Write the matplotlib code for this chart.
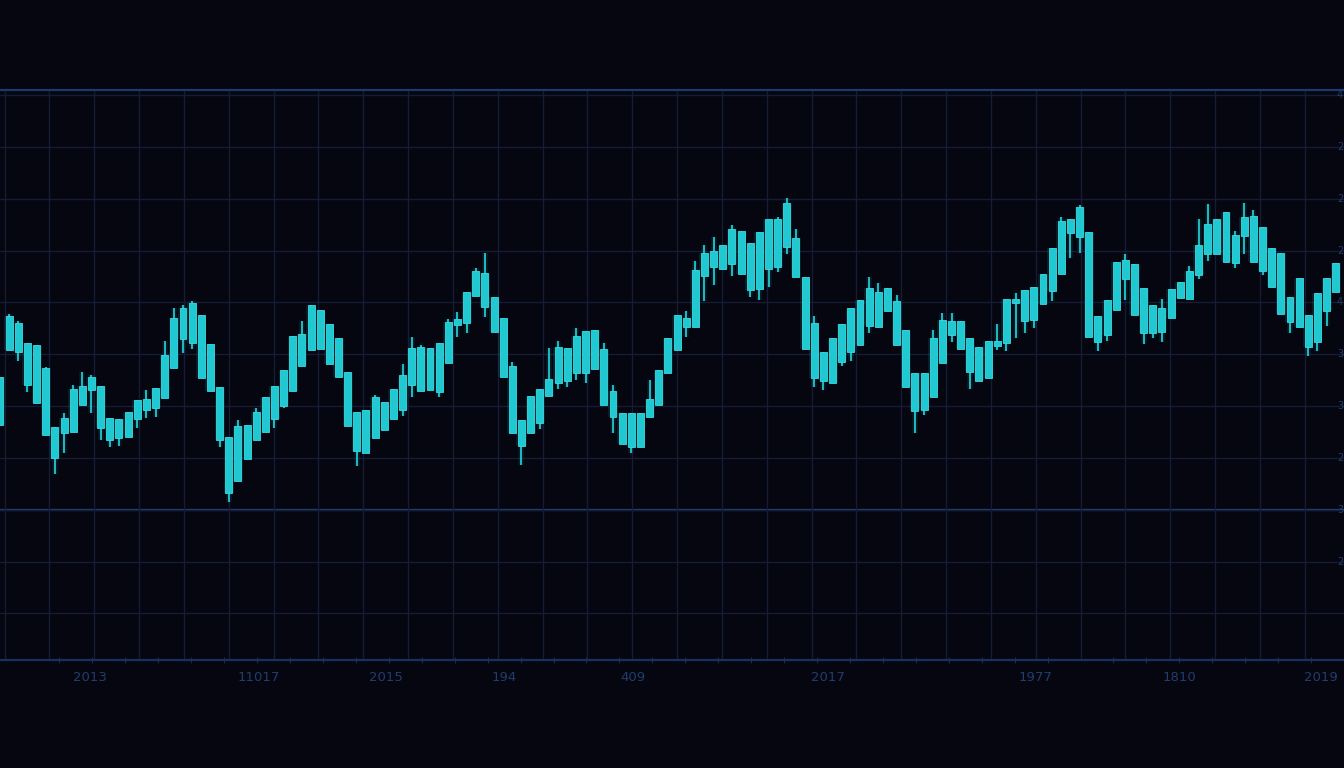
import numpy as np
import matplotlib
matplotlib.use("Agg")
import matplotlib.pyplot as plt
import matplotlib.transforms as mtrans

# candle data (arbitrary price units)
opens = [45.4, 59.8, 65.0, 61.2, 60.8, 56.4, 45.0, 43.8, 44.0, 49.2,
         52.1, 52.9, 46.7, 42.8, 43.0, 46.5, 48.2, 48.6, 50.6, 56.4,
         61.9, 61.2, 66.6, 61.0, 52.7, 43.0, 34.5, 38.8, 42.5, 44.0,
         46.5, 49.0, 51.9, 56.7, 59.8, 67.5, 64.8, 62.1, 55.6, 47.9,
         48.2, 42.8, 44.4, 46.5, 48.2, 53.1, 60.4, 52.1, 51.7, 57.3,
         64.6, 65.0, 70.2, 74.7, 70.1, 66.0, 56.7, 46.3, 43.8, 45.7,
         50.9, 53.5, 53.8, 55.4, 55.4, 56.2, 60.0, 51.9, 47.7, 47.7,
         41.1, 46.9, 49.2, 55.4, 59.8, 64.3, 64.3, 74.1, 75.8, 75.5,
         76.4, 82.8, 80.5, 71.6, 75.5, 75.8, 79.7, 81.4, 73.9, 65.0,
         59.4, 53.5, 57.5, 59.4, 60.8, 64.5, 71.0, 67.4, 69.3, 63.7,
         55.4, 48.2, 50.8, 57.3, 62.7, 65.4, 62.1, 60.4, 54.4, 60.6,
         61.2, 68.9, 71.4, 65.6, 68.7, 71.2, 74.5, 82.4, 81.6, 82.6,
         66.4, 62.7, 67.5, 73.5, 76.4, 71.8, 68.5, 67.9, 66.0, 69.9,
         69.7, 74.3, 78.4, 78.4, 86.5, 82.0, 81.8, 85.7, 83.6, 79.5,
         78.5, 70.1, 64.3, 66.6, 61.4, 67.4, 71.0]
closes = [54.6, 66.3, 59.4, 53.1, 49.6, 43.4, 39.0, 46.7, 52.3, 52.9,
          54.6, 44.8, 42.5, 46.5, 47.9, 50.2, 50.4, 52.5, 58.9, 66.0,
          67.9, 68.9, 54.4, 51.9, 42.5, 32.2, 45.2, 45.4, 47.9, 50.8,
          52.9, 56.0, 62.5, 62.9, 68.5, 60.0, 57.1, 54.6, 45.2, 40.3,
          39.9, 50.8, 49.8, 52.3, 55.0, 60.2, 51.9, 60.2, 61.2, 65.2,
          65.8, 71.0, 75.1, 68.1, 63.3, 54.6, 43.8, 41.3, 50.9, 52.3,
          54.2, 60.4, 60.2, 62.5, 63.5, 63.7, 49.2, 46.9, 41.7, 41.1,
          47.7, 50.4, 56.0, 62.1, 66.6, 66.0, 75.3, 78.5, 78.9, 80.1,
          83.2, 74.5, 71.4, 82.6, 85.1, 85.1, 88.2, 73.9, 60.0, 54.4,
          53.8, 62.1, 64.8, 67.9, 69.5, 71.8, 64.3, 71.8, 60.8, 52.7,
          48.1, 55.4, 62.1, 65.6, 65.4, 60.0, 55.6, 53.8, 61.6, 61.6,
          69.7, 69.7, 65.4, 72.0, 74.5, 79.5, 84.7, 85.1, 87.4, 62.3,
          61.4, 69.5, 76.8, 77.2, 66.6, 63.1, 63.1, 63.3, 71.6, 72.9,
          75.1, 80.1, 84.1, 85.1, 76.8, 76.6, 85.5, 76.8, 75.1, 72.0,
          66.8, 65.2, 73.7, 60.4, 70.8, 73.7, 76.6]
highs = [54.6, 66.8, 65.4, 61.2, 60.8, 56.5, 45.0, 47.7, 53.1, 55.6,
         55.0, 52.9, 46.7, 46.5, 47.9, 50.2, 52.1, 52.5, 61.6, 67.9,
         68.5, 69.3, 66.6, 61.0, 52.7, 43.0, 46.3, 45.4, 48.6, 50.8,
         52.9, 56.0, 62.5, 65.4, 68.5, 67.5, 64.8, 62.1, 55.6, 47.9,
         48.2, 51.1, 49.8, 52.3, 57.1, 62.3, 60.8, 60.2, 61.2, 65.8,
         67.2, 71.0, 75.6, 78.5, 70.1, 66.0, 57.5, 46.3, 50.9, 52.3,
         60.2, 61.6, 60.2, 64.1, 63.5, 63.7, 61.2, 53.1, 47.7, 47.7,
         47.7, 54.0, 56.0, 62.1, 66.6, 67.4, 77.0, 80.1, 81.6, 80.1,
         83.9, 82.8, 80.5, 82.6, 85.1, 85.5, 89.2, 83.2, 73.9, 66.4,
         59.4, 62.1, 64.8, 67.9, 69.5, 73.9, 72.8, 71.8, 70.4, 63.7,
         55.4, 55.4, 63.7, 67.0, 67.0, 65.4, 62.1, 60.4, 61.6, 64.8,
         69.7, 70.8, 71.4, 72.0, 74.5, 79.5, 85.5, 85.1, 87.8, 82.6,
         66.4, 69.5, 76.8, 78.4, 76.4, 71.8, 68.5, 69.7, 71.6, 72.9,
         76.0, 85.1, 88.0, 85.1, 86.5, 82.8, 88.2, 86.8, 83.6, 79.5,
         78.5, 70.1, 73.7, 66.6, 70.8, 73.7, 76.6]
lows = [45.4, 59.8, 57.7, 51.7, 49.6, 43.4, 35.9, 39.9, 44.0, 49.2,
        47.7, 42.5, 41.1, 41.3, 43.0, 44.8, 46.7, 46.9, 50.6, 56.4,
        59.2, 60.0, 54.4, 51.9, 41.1, 30.5, 34.5, 38.8, 42.5, 44.0,
        44.8, 48.6, 51.9, 56.7, 59.8, 60.0, 57.1, 54.6, 45.2, 37.4,
        39.9, 42.8, 44.4, 46.5, 47.1, 50.8, 51.9, 52.1, 50.8, 57.3,
        62.3, 63.1, 70.2, 66.2, 63.3, 54.6, 43.8, 37.6, 43.8, 44.6,
        50.9, 52.3, 52.7, 54.0, 53.5, 56.2, 49.2, 43.8, 41.7, 40.0,
        41.1, 46.9, 49.2, 55.4, 59.8, 62.3, 64.3, 69.3, 72.4, 75.5,
        74.1, 74.5, 70.1, 69.5, 72.0, 74.9, 78.4, 73.9, 60.0, 52.7,
        52.1, 53.5, 56.7, 57.7, 60.8, 63.1, 64.3, 67.4, 60.8, 52.7,
        43.8, 47.3, 50.8, 57.3, 61.4, 60.0, 52.3, 53.8, 54.4, 59.8,
        59.6, 62.1, 63.1, 64.1, 68.7, 69.3, 74.5, 77.6, 78.5, 62.3,
        59.6, 61.6, 67.5, 69.5, 66.6, 61.0, 62.1, 61.4, 66.0, 69.9,
        69.7, 73.5, 77.0, 78.4, 76.8, 75.6, 78.4, 76.8, 74.3, 72.0,
        66.8, 63.1, 64.3, 58.7, 59.6, 64.5, 71.0]

x_labels = ["2013", "11017", "2015", "194", "409", "2017", "1977", "1810", "2019"]
x_label_pos = [9.8, 28.3, 42.2, 55.1, 69.2, 90.5, 113.2, 128.9, 146.2]
y_grid = np.arange(9, 110, 10)
right_labels = ["4", "2", "2", "2", "4", "3", "3", "2", "3", "2"]

bg = "#05060f"
candle = "#20c9d2"
grid_c = "#141c36"
line_c = "#1d3a70"
label_c = "#213d6d"

opens = np.array(opens)
closes = np.array(closes)
highs = np.array(highs)
lows = np.array(lows)
idx = np.arange(len(opens))
body_lo = np.minimum(opens, closes)
body_hi = np.maximum(opens, closes)

fig = plt.figure(figsize=(13.44, 7.68), dpi=100, facecolor=bg)
ax = fig.add_axes([0, 108 / 768, 1, 570 / 768])
ax.set_facecolor(bg)
ax.set_xlim(0, 146.2)
ax.set_ylim(0, 110)

# grid
ax.set_yticks(y_grid)
ax.set_xticks(np.arange(0.5, 147, 4.9))
ax.set_xticks(np.arange(6.5, 147, 3.6), minor=True)
ax.grid(True, which="major", color=grid_c, linewidth=1.0)
ax.tick_params(which="major", length=0, labelbottom=False, labelleft=False)
ax.tick_params(which="minor", axis="x", length=5, width=0.8, color="#1a2a4f",
               direction="inout")
ax.tick_params(which="minor", axis="y", length=0)

for side in ["left", "right"]:
    ax.spines[side].set_visible(False)
ax.spines["top"].set_color(line_c)
ax.spines["top"].set_linewidth(1.6)
ax.spines["bottom"].set_color("#1a3060")
ax.spines["bottom"].set_linewidth(1.6)
ax.axhline(29, color="#22447f", linewidth=1.6, zorder=1)

# glow + candles
ax.vlines(idx, lows, highs, color=candle, linewidth=4, alpha=0.10, zorder=2)
ax.bar(idx, body_hi - body_lo, bottom=body_lo, width=1.1, color=candle,
       alpha=0.12, linewidth=0, zorder=2)
ax.vlines(idx, lows, highs, color=candle, linewidth=1.3, zorder=3)
ax.bar(idx, body_hi - body_lo, bottom=body_lo, width=0.76, color=candle,
       edgecolor="#3adbe2", linewidth=0.6, zorder=4)

# bottom labels
tr = mtrans.blended_transform_factory(ax.transData, ax.transAxes)
for lab, p in zip(x_labels[:-1], x_label_pos[:-1]):
    ax.text(p, -0.03, lab, transform=tr, ha="center", va="center",
            color=label_c, fontsize=9.5, family="DejaVu Sans Condensed",
            clip_on=False)
ax.text(x_label_pos[-1], -0.03, x_labels[-1], transform=tr, ha="right",
        va="center", color=label_c, fontsize=9.5,
        family="DejaVu Sans Condensed", clip_on=False)

# small labels hugging the right edge
off = mtrans.offset_copy(ax.get_yaxis_transform(), fig=fig, x=-1, y=0,
                         units="dots")
for lab, v in zip(right_labels, [109] + list(y_grid[::-1][1:])):
    ax.text(1.0, v, lab, transform=off, ha="right", va="center",
            color=label_c, fontsize=7, clip_on=False)

fig.savefig("out.png", dpi=100, facecolor=bg)
